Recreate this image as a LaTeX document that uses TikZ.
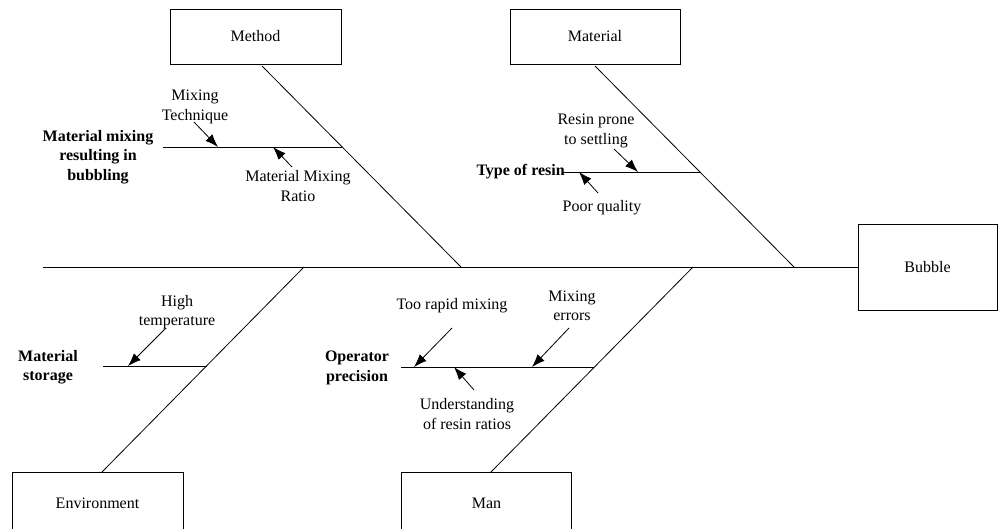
\documentclass[tikz,border=0pt]{standalone}
\usepackage{fontspec}
\setmainfont{Liberation Serif}
\usetikzlibrary{arrows.meta}
\newcommand{\fishfont}{\fontsize{16}{19.5}\selectfont}
\tikzset{
  catbox/.style={draw,line width=0.9pt,minimum width=171pt,minimum height=55pt,inner sep=0pt},
  bone/.style={line width=0.8pt},
  cause/.style={-{Latex[length=13pt,width=9.5pt]},line width=0.8pt},
  txt/.style={align=center,inner sep=0pt},
  effect/.style={txt,font=\fishfont\bfseries},
}

\begin{document}
\begin{tikzpicture}[x=1pt,y=-1pt,font=\fishfont]
                \useasboundingbox (0,0) rectangle (998,528);
                % Category boxes
                \node[catbox] (method) at (255.5,36.5) {Method};
                \node[catbox,minimum width=170pt] (material) at (595,36.5) {Material};
                \node[catbox,minimum width=139pt,minimum height=86pt] (bubble) at (927.5,267) {Bubble};
                \node[catbox,minimum height=62pt] (environment) at (97.5,503) {Environment};
                \node[catbox,minimum width=170pt,minimum height=62pt] (man) at (486.5,503) {Man};
                % Spine and main bones
                \coordinate (tail) at (43,267);
                \draw[bone] (tail) -- (bubble.west);
                \coordinate (mtop) at (262,66);   \coordinate (mbot) at (461,267);
                \coordinate (ttop) at (595,66);   \coordinate (tbot) at (794,267);
                \coordinate (ebot) at (102,472);  \coordinate (etop) at (304,267);
                \coordinate (nbot) at (491,472);  \coordinate (ntop) at (693,267);
                \draw[bone] (mtop) -- (mbot);
                \draw[bone] (ttop) -- (tbot);
                \draw[bone] (ebot) -- (etop);
                \draw[bone] (nbot) -- (ntop);
                % Sub-bones
                \coordinate (ms) at (163,147);  \coordinate (me) at (342,147);
                \coordinate (ts) at (563,172);  \coordinate (te) at (700,172);
                \coordinate (es) at (103,366);  \coordinate (ee) at (207,366);
                \coordinate (ns) at (401,367);  \coordinate (ne) at (594,367);
                \draw[bone] (ms) -- (me);
                \draw[bone] (ts) -- (te);
                \draw[bone] (es) -- (ee);
                \draw[bone] (ns) -- (ne);
                % Bold sub-causes
                \node[effect] (mixbub) at (98,157) {Material mixing\\resulting in\\bubbling};
                \node[effect,anchor=east] (resintype) at (565,172) {Type of resin};
                \node[effect] (storage) at (48,367) {Material\\storage};
                \node[effect] (precision) at (357,368) {Operator\\precision};
                % Causes
                \node[txt] (technique) at (195,107) {Mixing\\Technique};
                \node[txt] (ratio) at (298,186) {Material Mixing\\Ratio};
                \node[txt] (settling) at (596,131) {Resin prone\\to settling};
                \node[txt] (quality) at (602,208) {Poor quality};
                \node[txt] (hightemp) at (177,312) {High\\temperature};
                \node[txt] (rapid) at (452,306) {Too rapid mixing};
                \node[txt] (errors) at (572,306) {Mixing\\errors};
                \node[txt] (understand) at (467,414) {Understanding\\of resin ratios};
                % Cause arrows
                \coordinate (a1) at (194,122);  \coordinate (b1) at (218,147);
                \coordinate (a2) at (292,167);  \coordinate (b2) at (273,147);
                \coordinate (a3) at (614,149);  \coordinate (b3) at (638,172);
                \coordinate (a4) at (598,193);  \coordinate (b4) at (579,172);
                \coordinate (a5) at (166,328);  \coordinate (b5) at (128,366);
                \coordinate (a6) at (452,328);  \coordinate (b6) at (414,367);
                \coordinate (a7) at (569,328);  \coordinate (b7) at (532,367);
                \coordinate (a8) at (474,390);  \coordinate (b8) at (454,367);
                \foreach \i in {1,...,8}
                    \draw[cause] (a\i) -- (b\i);
            \end{tikzpicture}
\end{document}
